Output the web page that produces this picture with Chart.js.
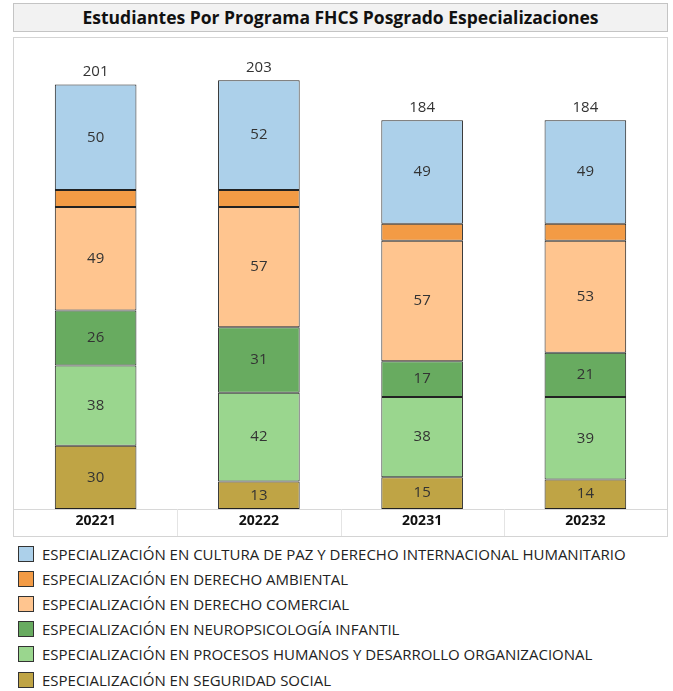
<!DOCTYPE html>
<html>
<head>
<meta charset="utf-8">
<script src="https://cdn.jsdelivr.net/npm/chart.js@4"></script>
<style>
  body { margin: 0; background: #fff; font-family: 'Open Sans', sans-serif; }
  #title {
    position: absolute; left: 13px; top: 3px; width: 653px; height: 27px;
    background: #f2f2f2; border: 1px solid #c4c4c4;
    font-weight: bold; font-size: 17.5px; line-height: 27px; text-align: center; color: #111;
  }
  #box {
    position: absolute; left: 13px; top: 37px; width: 653px; height: 498px;
    border: 1px solid #d4d4d4;
  }
  #legend { position: absolute; left: 18px; top: 541px; }
  .item { height: 25.2px; display: flex; align-items: center; font-size: 15px; color: #222; }
  .sw { width: 14px; height: 14px; border: 1px solid #333; margin-right: 8px; }
</style>
</head>
<body>
<div id="title">Estudiantes Por Programa FHCS Posgrado Especializaciones</div>
<div id="box"><canvas id="chart" width="653" height="498"></canvas></div>
<div id="legend"></div>
<script>
// Data (stack order bottom to top)
const periods = ['20221', '20222', '20231', '20232'];
const programs = [
    'ESPECIALIZACIÓN EN SEGURIDAD SOCIAL',
    'ESPECIALIZACIÓN EN PROCESOS HUMANOS Y DESARROLLO ORGANIZACIONAL',
    'ESPECIALIZACIÓN EN NEUROPSICOLOGÍA INFANTIL',
    'ESPECIALIZACIÓN EN DERECHO COMERCIAL',
    'ESPECIALIZACIÓN EN DERECHO AMBIENTAL',
    'ESPECIALIZACIÓN EN CULTURA DE PAZ Y DERECHO INTERNACIONAL HUMANITARIO'
];
const seguridad = [30, 13, 15, 14];
const procesos = [38, 42, 38, 39];
const neuro = [26, 31, 17, 21];
const comercial = [49, 57, 57, 53];
const ambiental = [8, 8, 8, 8];
const cultura = [50, 52, 49, 49];
const colors = ['#bfa445', '#9ad68e', '#68ab60', '#ffc58f', '#f39b45', '#acd0ea'];

const series = [seguridad, procesos, neuro, comercial, ambiental, cultura];

// Labels inside segments + totals above
const labelPlugin = {
    id: 'labels',
    afterDatasetsDraw(chart) {
        const ctx = chart.ctx;
        ctx.save();
        ctx.font = '15px "Open Sans"';
        ctx.fillStyle = '#333';
        ctx.textAlign = 'center';
        ctx.textBaseline = 'middle';
        chart.data.datasets.forEach((ds, i) => {
            if (ds.hideLabels) return;
            chart.getDatasetMeta(i).data.forEach((bar, j) => {
                ctx.fillText(ds.data[j], bar.x, (bar.y + bar.base) / 2);
            });
        });
        const last = chart.getDatasetMeta(chart.data.datasets.length - 1).data;
        periods.forEach((p, j) => {
            const total = series.reduce((s, arr) => s + arr[j], 0);
            ctx.fillText(total, last[j].x, last[j].y - 13);
        });
        ctx.restore();
    },
    afterDraw(chart) {
        // separators between category labels
        const ctx = chart.ctx, x = chart.scales.x, area = chart.chartArea;
        ctx.save();
        ctx.strokeStyle = '#e4e4e4';
        ctx.lineWidth = 1;
        for (let i = 0; i < periods.length - 1; i++) {
            const px = Math.round((x.getPixelForValue(i) + x.getPixelForValue(i + 1)) / 2) + 0.5;
            ctx.beginPath();
            ctx.moveTo(px, area.bottom);
            ctx.lineTo(px, chart.height);
            ctx.stroke();
        }
        ctx.restore();
    }
};

const chart = new Chart(document.getElementById('chart'), {
    type: 'bar',
    data: {
        labels: periods,
        datasets: series.map((vals, i) => ({
            label: programs[i],
            data: vals,
            backgroundColor: colors[i],
            borderColor: '#222',
            borderWidth: 1,
            borderSkipped: false,
            categoryPercentage: 1,
            barPercentage: 0.5,
            hideLabels: i === 4
        }))
    },
    options: {
        responsive: false,
        animation: false,
        layout: { padding: 0 },
        plugins: { legend: { display: false }, tooltip: { enabled: false } },
        scales: {
            x: {
                stacked: true,
                grid: { display: false, drawTicks: false },
                border: { display: true, color: '#d8d8d8' },
                ticks: { color: '#111', font: { family: 'Open Sans', weight: 'bold', size: 14 }, padding: 4 },
                afterFit(scale) { scale.height = 27; }
            },
            y: {
                stacked: true, display: false, min: 0, max: 223
            }
        }
    },
    plugins: [labelPlugin]
});

// Legend (top to bottom, reverse stack order)
const legend = document.getElementById('legend');
chart.data.datasets.slice().reverse().forEach(ds => {
    const row = document.createElement('div');
    row.className = 'item';
    row.innerHTML = `<span class="sw" style="background:${ds.backgroundColor}"></span>${ds.label}`;
    legend.appendChild(row);
});
</script>
</body>
</html>
